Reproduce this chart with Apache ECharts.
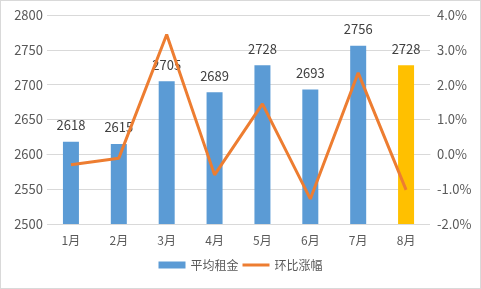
<!DOCTYPE html>
<html><head><meta charset="utf-8">
<script src="https://cdn.jsdelivr.net/npm/echarts@6/dist/echarts.min.js"></script>
<style>
html,body{margin:0;padding:0;background:#fff;}
#c{width:481px;height:289px;box-sizing:border-box;border:1px solid #d9d9d9;}
</style></head>
<body><div id="c"></div>
<script>
var categories = ['1月','2月','3月','4月','5月','6月','7月','8月'];
var rentValues = [2618, 2615, 2705, 2689, 2728, 2693, 2756, 2728];
var changeValues = [-0.3, -0.11, 3.44, -0.59, 1.45, -1.28, 2.34, -1.02];
var leftTicks = {min: 2500, max: 2800, interval: 50};
var rightTicks = {min: -2, max: 4, interval: 1};
var barColors = ['#5B9BD5','#5B9BD5','#5B9BD5','#5B9BD5','#5B9BD5','#5B9BD5','#5B9BD5','#FFC000'];

var font = '"Noto Sans CJK SC", "Noto Sans", sans-serif';
var chart = echarts.init(document.getElementById('c'), null, {renderer:'canvas'});
chart.setOption({
  animation: false,
  textStyle: {fontFamily: font},
  grid: {left: 46, right: 50, top: 14, bottom: 64, containLabel: false},
  legend: {
    bottom: 12, left: 'center', itemGap: 4, itemWidth: 27, itemHeight: 7,
    textStyle: {color: '#595959', fontSize: 12, fontFamily: font},
    data: [{name: '平均租金', icon: 'rect'},
           {name: '环比涨幅', icon: 'path://M0,0 L27,0 L27,3 L0,3 Z'}]
  },
  xAxis: {
    type: 'category', data: categories,
    axisLine: {lineStyle: {color: '#d9d9d9'}},
    axisTick: {show: false},
    axisLabel: {color: '#595959', fontSize: 12, margin: 10, fontFamily: font}
  },
  yAxis: [{
    type: 'value', min: leftTicks.min, max: leftTicks.max, interval: leftTicks.interval,
    axisLabel: {color: '#595959', fontSize: 13, margin: 4, fontFamily: font,
      formatter: function(v){ return String(v); }},
    splitLine: {lineStyle: {color: '#d9d9d9'}},
    axisLine: {show: false}, axisTick: {show: false}
  }, {
    type: 'value', min: rightTicks.min, max: rightTicks.max, interval: rightTicks.interval,
    axisLabel: {color: '#595959', fontSize: 13, margin: 7, fontFamily: font,
      formatter: function(v){ return v.toFixed(1) + '%'; }},
    splitLine: {show: false}, axisLine: {show: false}, axisTick: {show: false}
  }],
  series: [{
    name: '平均租金', type: 'bar', barWidth: 16, yAxisIndex: 0,
    itemStyle: {color: '#5B9BD5'},
    data: rentValues.map(function(v, i){ return {value: v, itemStyle: {color: barColors[i]}}; }),
    label: {show: true, position: 'top', distance: 10, color: '#404040', fontSize: 13, fontFamily: font}
  }, {
    name: '环比涨幅', type: 'line', yAxisIndex: 1, data: changeValues,
    symbol: 'none', lineStyle: {color: '#ED7D31', width: 3}, itemStyle: {color: '#ED7D31'}
  }]
});
</script></body></html>
